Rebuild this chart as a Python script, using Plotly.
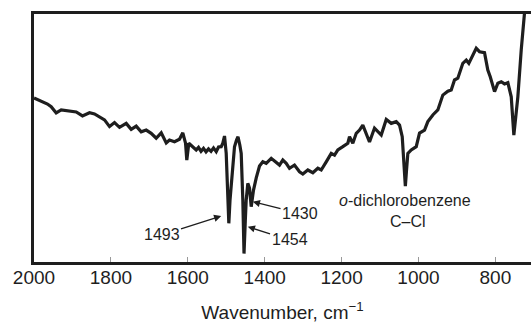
import plotly.graph_objects as go

# Wavenumber (cm^-1) and transmittance (arbitrary %)
wavenumber = [2000, 1985.7, 1972.7, 1964.9, 1955.3, 1942.3, 1929.3, 1916.2, 1907.7, 1890.2,
              1873.9, 1855.6, 1842.6, 1829.6, 1816.6, 1803.6, 1790.6, 1777.6, 1760.2, 1747.2,
              1734.2, 1721.2, 1708.2, 1695.2, 1682.2, 1669.1, 1656.1, 1647.6, 1634.6, 1621.6,
              1613.0, 1605.9, 1602.6, 1597.4, 1587.0, 1578.1, 1572.1, 1565.6, 1559.1, 1552.6,
              1546.1, 1539.6, 1533.1, 1526.1, 1520.1, 1513.1, 1508.9, 1504.5, 1500.1, 1496.7,
              1493.3, 1490.2, 1487.1, 1482.9, 1478.5, 1473.3, 1469.4, 1464.7, 1461.1, 1456.9,
              1453.8, 1450.4, 1448.1, 1443.9, 1439.5, 1435.1, 1429.1, 1422.0, 1413.5, 1404.9,
              1396.1, 1383.0, 1370.0, 1361.5, 1352.9, 1344.0, 1335.5, 1322.5, 1309.4, 1300.8,
              1287.8, 1274.8, 1261.8, 1253.0, 1240.0, 1227.0, 1218.4, 1209.8, 1196.8, 1183.8,
              1179.4, 1170.8, 1161.9, 1153.4, 1144.8, 1136.0, 1127.4, 1114.4, 1105.8, 1096.9,
              1083.9, 1070.9, 1057.9, 1049.3, 1042.3, 1037.6, 1034.2, 1031.1, 1027.7, 1018.9,
              1005.9, 997.3, 984.3, 975.7, 962.7, 949.7, 936.7, 923.7, 914.9, 906.3,
              897.7, 884.7, 875.8, 869.1, 858.7, 849.9, 841.3, 828.3, 819.7, 813.4,
              802.2, 793.6, 784.8, 776.2, 767.6, 758.8, 752.0, 741.6, 732.8, 724.2, 719.0]
transmittance = [66.1, 65.0, 64.1, 63.7, 62.6, 60.1, 61.3, 61.0, 60.6, 60.5,
                 58.9, 60.2, 59.7, 58.6, 57.3, 54.6, 56.2, 54.3, 55.9, 53.5,
                 54.8, 52.5, 53.2, 51.9, 49.9, 52.1, 48.0, 49.2, 48.5, 49.5,
                 52.1, 47.9, 41.1, 47.9, 46.5, 45.2, 46.2, 44.6, 45.8, 44.4,
                 45.6, 44.6, 46.0, 44.5, 46.4, 46.5, 47.9, 50.8, 43.8, 25.0,
                 15.6, 25.0, 31.7, 41.1, 46.5, 49.2, 50.5, 47.2, 43.8, 25.0,
                 3.4, 16.9, 25.0, 31.7, 29.8, 22.3, 29.0, 33.9, 38.7, 40.4,
                 39.8, 41.8, 40.4, 39.1, 41.1, 39.8, 37.8, 39.1, 36.4, 35.5,
                 37.1, 36.0, 37.8, 37.1, 40.4, 43.8, 43.1, 45.2, 46.5, 47.9,
                 50.5, 47.9, 51.9, 53.2, 55.2, 51.9, 48.4, 54.0, 52.5, 51.2,
                 57.5, 55.9, 56.6, 55.2, 50.5, 41.1, 30.6, 37.1, 43.8, 45.2,
                 46.5, 52.0, 53.2, 56.6, 59.3, 61.3, 67.3, 68.9, 69.4, 73.4,
                 74.1, 80.1, 81.4, 80.1, 83.1, 86.2, 84.8, 84.4, 77.4, 74.7,
                 68.7, 72.1, 72.7, 71.8, 72.3, 66.6, 51.2, 66.6, 85.5, 101.6, 109.7]

x_ticks = [2000, 1800, 1600, 1400, 1200, 1000, 800]
x_range = [2000, 707.4]
y_range = [0, 100]

# Peak labels: label text centre and the band each arrow points at
peak_labels = ["1493", "1430", "1454"]
label_pos = [(1668.4, 10.9), (1308.1, 19.6), (1335.4, 8.9)]
arrow_head = [(1513.1, 18.5), (1430.9, 24.3), (1443.9, 14.2)]

ink = "#1e1e1e"
font_family = "Liberation Sans, Arial, sans-serif"

fig = go.Figure()
fig.add_trace(go.Scatter(x=wavenumber, y=transmittance, mode="lines",
                         line=dict(color=ink, width=3.2), hoverinfo="skip"))

annotations = []
for lab, (tx, ty), (hx, hy) in zip(peak_labels, label_pos, arrow_head):
    annotations.append(dict(x=hx, y=hy, ax=tx, ay=ty, xref="x", yref="y", axref="x", ayref="y",
                            text=lab, showarrow=True, arrowhead=2, arrowsize=1.1, arrowwidth=1.3,
                            arrowcolor=ink, standoff=0, borderpad=1,
                            font=dict(size=16, color=ink, family=font_family)))
annotations.append(dict(x=1036.3, y=24.6, xref="x", yref="y", text="<i>o</i>-dichlorobenzene",
                        showarrow=False, font=dict(size=16, color=ink, family=font_family)))
annotations.append(dict(x=1028.5, y=16.5, xref="x", yref="y", text="C–Cl",
                        showarrow=False, font=dict(size=16, color=ink, family=font_family)))

fig.update_layout(
    width=531, height=326,
    margin=dict(l=34, r=0, t=14, b=64),
    paper_bgcolor="white", plot_bgcolor="white",
    showlegend=False,
    font=dict(family=font_family, color=ink),
    annotations=annotations,
)
fig.update_xaxes(range=x_range, tickvals=x_ticks, ticktext=[str(v) for v in x_ticks],
                 ticks="inside", ticklen=5, tickwidth=1, tickcolor="#999999",
                 showline=True, linecolor=ink, linewidth=2.5, mirror=True,
                 showgrid=False, zeroline=False, ticklabelstandoff=-4,
                 tickfont=dict(size=19, color=ink, family=font_family),
                 title=dict(text="Wavenumber, cm<sup>−1</sup>", font=dict(size=19, color=ink, family=font_family),
                            standoff=20))
fig.update_yaxes(range=y_range, showticklabels=False, ticks="",
                 showline=True, linecolor=ink, linewidth=2.5, mirror=False,
                 showgrid=False, zeroline=False)

fig.write_html("out.html", config={"displayModeBar": False},
               post_script="document.body.style.margin='0';document.body.style.overflow='hidden';")
